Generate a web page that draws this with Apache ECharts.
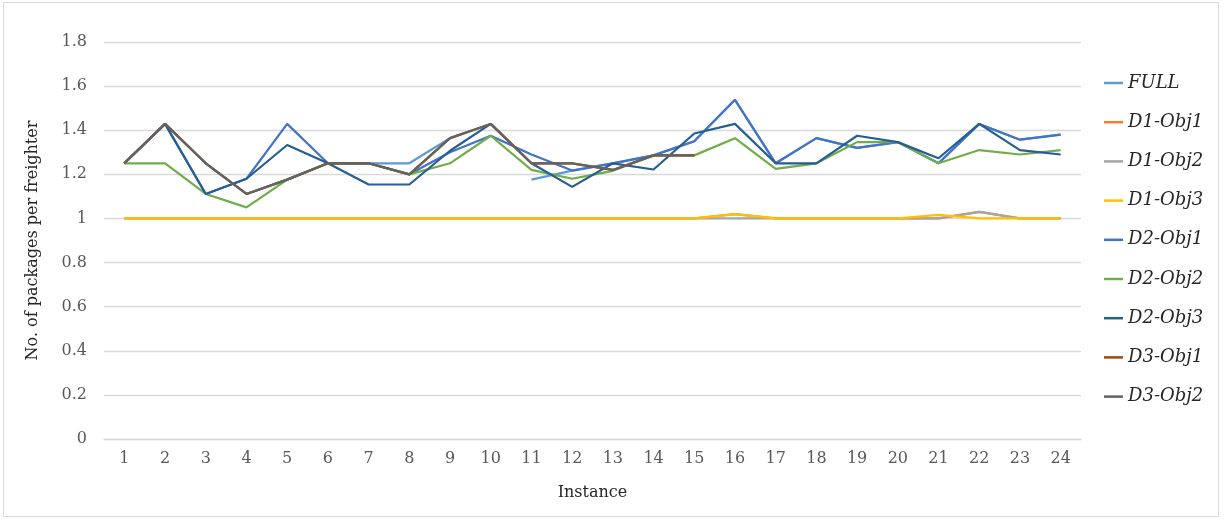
<!DOCTYPE html>
<html>
<head>
<meta charset="utf-8">
<script src="https://cdn.jsdelivr.net/npm/echarts@6/dist/echarts.min.js"></script>
<style>
html,body{margin:0;padding:0;background:#fff;}
#chart{width:1224px;height:522px;}
</style>
</head>
<body>
<div id="chart"></div>
<script>
const categories = ['1','2','3','4','5','6','7','8','9','10','11','12','13','14','15','16','17','18','19','20','21','22','23','24'];
const yTicks = [0, 0.2, 0.4, 0.6, 0.8, 1, 1.2, 1.4, 1.6, 1.8];

const FULL    = [1.25,1.4286,1.25,1.111,1.176,1.25,1.25,1.25,1.364,null,1.176,1.217,1.25,1.286,1.35,1.538,1.25,1.364,1.32,1.346,1.25,1.4286,1.357,1.38];
const D1_Obj1 = [1,1,1,1,1,1,1,1,1,1,1,1,1,1,1,1.02,1,1,1,1,1,1.03,1,1];
const D1_Obj2 = [1,1,1,1,1,1,1,1,1,1,1,1,1,1,1,1,1,1,1,1,1,1.03,1,1];
const D1_Obj3 = [1,1,1,1,1,1,1,1,1,1,1,1,1,1,1,1.02,1,1,1,1,1.016,1,1,1];
const D2_Obj1 = [1.25,1.4286,1.111,1.18,1.4286,1.25,1.25,1.2,1.3,1.375,1.29,1.217,1.25,1.286,1.35,1.538,1.25,1.364,1.32,1.346,1.25,1.4286,1.357,1.38];
const D2_Obj2 = [1.25,1.25,1.111,1.05,1.176,1.25,1.25,1.2,1.25,1.375,1.22,1.18,1.216,1.286,1.286,1.364,1.225,1.25,1.346,1.346,1.25,1.31,1.29,1.31];
const D2_Obj3 = [1.25,1.4286,1.111,1.18,1.333,1.25,1.154,1.154,1.307,1.4286,1.25,1.143,1.25,1.222,1.385,1.4286,1.25,1.25,1.375,1.346,1.273,1.4286,1.31,1.29];
const D3_Obj1 = [1.25,1.4286,1.25,1.111,1.176,1.25,1.25,1.2,1.364,1.4286,1.25,1.25,1.22,1.286,1.286,null,null,null,null,null,null,null,null,null];
const D3_Obj2 = [1.25,1.4286,1.25,1.111,1.176,1.25,1.25,1.2,1.364,1.4286,1.25,1.25,1.22,1.286,1.286,null,null,null,null,null,null,null,null,null];

const seriesNames = ['FULL','D1-Obj1','D1-Obj2','D1-Obj3','D2-Obj1','D2-Obj2','D2-Obj3','D3-Obj1','D3-Obj2'];
const seriesData = [FULL, D1_Obj1, D1_Obj2, D1_Obj3, D2_Obj1, D2_Obj2, D2_Obj3, D3_Obj1, D3_Obj2];
const colors = ['#5B9BD5','#ED7D31','#A5A5A5','#FFC000','#4472C4','#70AD47','#255E91','#9E480E','#636363'];

const chart = echarts.init(document.getElementById('chart'), null, {renderer:'canvas'});
const fontFamily = '"DejaVu Serif", serif';

chart.setOption({
  animation: false,
  color: colors,
  graphic: [{
    type: 'rect', silent: true, z: -1,
    shape: {x: 3.5, y: 2.5, width: 1215, height: 514},
    style: {fill: '#fff', stroke: '#D9D9D9', lineWidth: 1}
  }],
  grid: {left: 104, right: 143, top: 42, bottom: 83, containLabel: false},
  legend: {
    orient: 'vertical',
    left: 1099,
    top: 68,
    icon: 'rect',
    itemWidth: 19,
    itemHeight: 2.5,
    itemGap: 19.2,
    textStyle: {fontFamily: fontFamily, fontStyle: 'italic', fontSize: 18, color: '#262626', lineHeight: 20},
    data: seriesNames
  },
  xAxis: {
    type: 'category',
    data: categories,
    boundaryGap: true,
    name: 'Instance',
    nameLocation: 'middle',
    nameGap: 46,
    nameTextStyle: {fontFamily: fontFamily, fontSize: 16, color: '#262626'},
    axisLine: {lineStyle: {color: '#D9D9D9', width: 1.3}},
    axisTick: {show: false},
    axisLabel: {fontFamily: fontFamily, fontSize: 16, color: '#595959', margin: 12},
    splitLine: {show: false}
  },
  yAxis: {
    type: 'value',
    min: 0, max: 1.8, interval: 0.2,
    name: 'No. of packages per freighter',
    nameLocation: 'middle',
    nameGap: 63,
    nameTextStyle: {fontFamily: fontFamily, fontSize: 16, color: '#262626'},
    axisLine: {show: false},
    axisTick: {show: false},
    axisLabel: {
      fontFamily: fontFamily, fontSize: 16, color: '#595959', margin: 17,
      formatter: function (v) {
        const r = Math.round(v * 10) / 10;
        const t = yTicks.find(x => Math.abs(x - r) < 1e-9);
        return String(t !== undefined ? t : r);
      }
    },
    splitLine: {lineStyle: {color: '#D9D9D9', width: 1.3}}
  },
  series: seriesNames.map((n, i) => ({
    name: n,
    type: 'line',
    data: seriesData[i],
    symbol: 'none',
    showSymbol: false,
    connectNulls: false,
    lineStyle: {width: 2.2, color: colors[i]},
    itemStyle: {color: colors[i]},
    z: 2 + i
  }))
});
</script>
</body>
</html>
